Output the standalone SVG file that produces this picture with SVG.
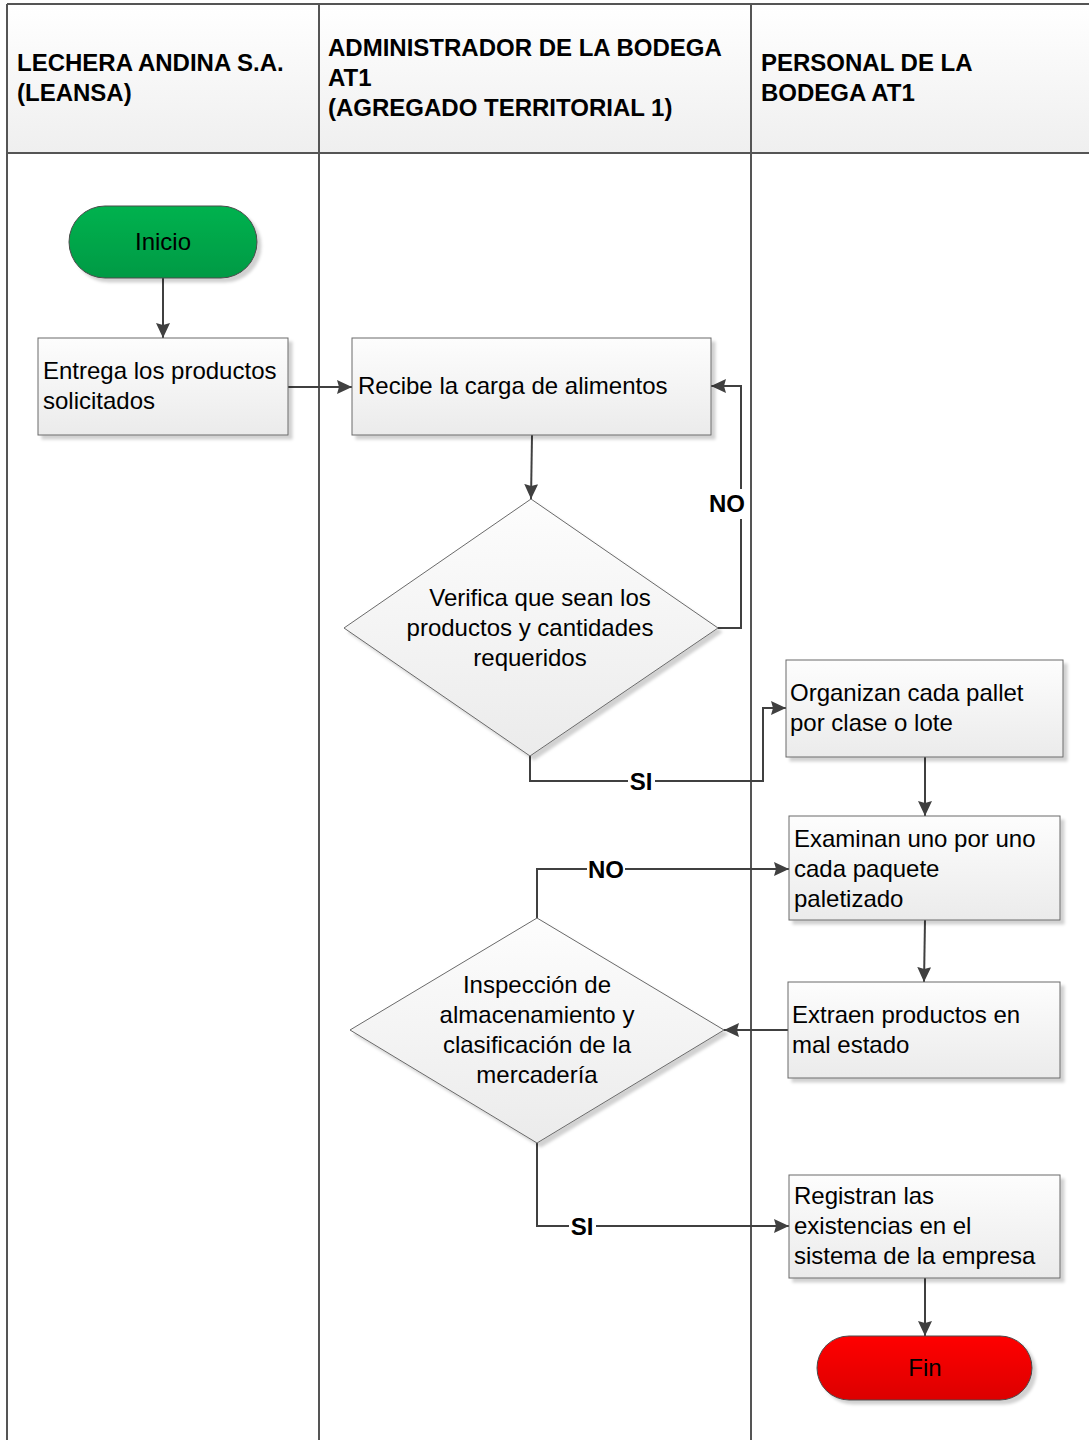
<svg xmlns="http://www.w3.org/2000/svg" width="1089" height="1440" viewBox="0 0 1089 1440">
  <defs>
    <linearGradient id="gHead" x1="0" y1="0" x2="0" y2="1">
      <stop offset="0" stop-color="#ffffff"/>
      <stop offset="1" stop-color="#efefef"/>
    </linearGradient>
    <linearGradient id="gBox" x1="0" y1="0" x2="0" y2="1">
      <stop offset="0" stop-color="#fdfdfd"/>
      <stop offset="1" stop-color="#ebebeb"/>
    </linearGradient>
    <linearGradient id="gGreen" x1="0" y1="0" x2="0" y2="1">
      <stop offset="0" stop-color="#00b24f"/>
      <stop offset="1" stop-color="#009a44"/>
    </linearGradient>
    <linearGradient id="gRed" x1="0" y1="0" x2="0" y2="1">
      <stop offset="0" stop-color="#ff0000"/>
      <stop offset="1" stop-color="#dc0000"/>
    </linearGradient>
    <filter id="shadow" x="-10%" y="-10%" width="130%" height="130%">
      <feDropShadow dx="4" dy="4" stdDeviation="1.5" flood-color="#000" flood-opacity="0.18"/>
    </filter>
    <marker id="arrow" viewBox="0 0 15 14" refX="15" refY="7" markerWidth="15" markerHeight="14" markerUnits="userSpaceOnUse" orient="auto">
      <path d="M0,0 L15,7 L0,14 L2,7 Z" fill="#404040"/>
    </marker>
  </defs>
  <style>
    .lane { fill: none; stroke: #555555; stroke-width: 2; }
    .head { font-family: "Liberation Sans", Arial, sans-serif; font-size: 24px; font-weight: bold; fill: #000; }
    .txt { font-family: "Liberation Sans", Arial, sans-serif; font-size: 24px; fill: #000; }
    .box { fill: url(#gBox); stroke: #6a6a6a; stroke-width: 1; filter: url(#shadow); }
    .conn { fill: none; stroke: #404040; stroke-width: 2; }
    .lbl { font-family: "Liberation Sans", Arial, sans-serif; font-size: 24px; font-weight: bold; fill: #000; }
    .lblbg { fill: #ffffff; }
  </style>

  <rect width="1089" height="1440" fill="#ffffff"/>

  <!-- swimlane frame -->
  <g id="lanes">
    <rect x="7" y="4" width="1090" height="149" fill="url(#gHead)"/>
    <path class="lane" d="M7,4 H1095 M7,153 H1095 M7,4 V1445 M319,4 V1445 M751,4 V1445"/>
    <text class="head" x="17" y="71">LECHERA ANDINA S.A.</text>
    <text class="head" x="17" y="101">(LEANSA)</text>
    <text class="head" x="328" y="56">ADMINISTRADOR DE LA BODEGA</text>
    <text class="head" x="328" y="86">AT1</text>
    <text class="head" x="328" y="116">(AGREGADO TERRITORIAL 1)</text>
    <text class="head" x="761" y="71">PERSONAL DE LA</text>
    <text class="head" x="761" y="101">BODEGA AT1</text>
  </g>

  <!-- connectors -->
  <g id="connectors">
    <path class="conn" d="M163,278 V338" marker-end="url(#arrow)"/>
    <path class="conn" d="M288,387 H352" marker-end="url(#arrow)"/>
    <path class="conn" d="M532,435 L531,499" marker-end="url(#arrow)"/>
    <path class="conn" d="M718,628 H741 V386 H711" marker-end="url(#arrow)"/>
    <path class="conn" d="M530,756 V781 H763 V708 H786" marker-end="url(#arrow)"/>
    <path class="conn" d="M925,757 V816" marker-end="url(#arrow)"/>
    <path class="conn" d="M925,920 L924,982" marker-end="url(#arrow)"/>
    <path class="conn" d="M788,1030 H724" marker-end="url(#arrow)"/>
    <path class="conn" d="M537,918 V869 H789" marker-end="url(#arrow)"/>
    <path class="conn" d="M537,1143 V1226 H789" marker-end="url(#arrow)"/>
    <path class="conn" d="M925,1278 V1336" marker-end="url(#arrow)"/>
    <!-- branch labels -->
    <rect class="lblbg" x="708" y="489" width="38" height="30"/>
    <text class="lbl" x="727" y="512" text-anchor="middle">NO</text>
    <rect class="lblbg" x="628" y="767" width="27" height="28"/>
    <text class="lbl" x="641" y="790" text-anchor="middle">SI</text>
    <rect class="lblbg" x="587" y="855" width="38" height="28"/>
    <text class="lbl" x="606" y="878" text-anchor="middle">NO</text>
    <rect class="lblbg" x="569" y="1212" width="27" height="28"/>
    <text class="lbl" x="582" y="1235" text-anchor="middle">SI</text>
  </g>

  <g id="inicio">
    <rect x="69" y="206" width="188" height="72" rx="36" ry="36" fill="url(#gGreen)" stroke="#4a4a4a" stroke-width="1" filter="url(#shadow)"/>
    <text class="txt" x="163" y="250" text-anchor="middle">Inicio</text>
  </g>

  <g id="entrega">
    <rect class="box" x="38" y="338" width="250" height="97"/>
    <text class="txt" x="43" y="379">Entrega los productos</text>
    <text class="txt" x="43" y="409">solicitados</text>
  </g>

  <g id="recibe">
    <rect class="box" x="352" y="338" width="359" height="97"/>
    <text class="txt" x="358" y="394">Recibe la carga de alimentos</text>
  </g>

  <g id="verifica">
    <path class="box" d="M531,499 L718,628 L530,756 L344,628 Z"/>
    <text class="txt" x="540" y="606" text-anchor="middle">Verifica que sean los</text>
    <text class="txt" x="530" y="636" text-anchor="middle">productos y cantidades</text>
    <text class="txt" x="530" y="666" text-anchor="middle">requeridos</text>
  </g>

  <g id="organizan">
    <rect class="box" x="786" y="660" width="277" height="97"/>
    <text class="txt" x="790" y="701">Organizan cada pallet</text>
    <text class="txt" x="790" y="731">por clase o lote</text>
  </g>

  <g id="examinan">
    <rect class="box" x="789" y="816" width="271" height="104"/>
    <text class="txt" x="794" y="847">Examinan uno por uno</text>
    <text class="txt" x="794" y="877">cada paquete</text>
    <text class="txt" x="794" y="907">paletizado</text>
  </g>

  <g id="extraen">
    <rect class="box" x="788" y="982" width="272" height="96"/>
    <text class="txt" x="792" y="1023">Extraen productos en</text>
    <text class="txt" x="792" y="1053">mal estado</text>
  </g>

  <g id="inspeccion">
    <path class="box" d="M537,918 L724,1030 L537,1143 L350,1030 Z"/>
    <text class="txt" x="537" y="993" text-anchor="middle">Inspección de</text>
    <text class="txt" x="537" y="1023" text-anchor="middle">almacenamiento y</text>
    <text class="txt" x="537" y="1053" text-anchor="middle">clasificación de la</text>
    <text class="txt" x="537" y="1083" text-anchor="middle">mercadería</text>
  </g>

  <g id="registran">
    <rect class="box" x="789" y="1175" width="271" height="103"/>
    <text class="txt" x="794" y="1204">Registran las</text>
    <text class="txt" x="794" y="1234">existencias en el</text>
    <text class="txt" x="794" y="1264">sistema de la empresa</text>
  </g>

  <g id="fin">
    <rect x="817" y="1336" width="215" height="64" rx="32" ry="32" fill="url(#gRed)" stroke="#4a4a4a" stroke-width="1" filter="url(#shadow)"/>
    <text class="txt" x="925" y="1376" text-anchor="middle">Fin</text>
  </g>
</svg>
